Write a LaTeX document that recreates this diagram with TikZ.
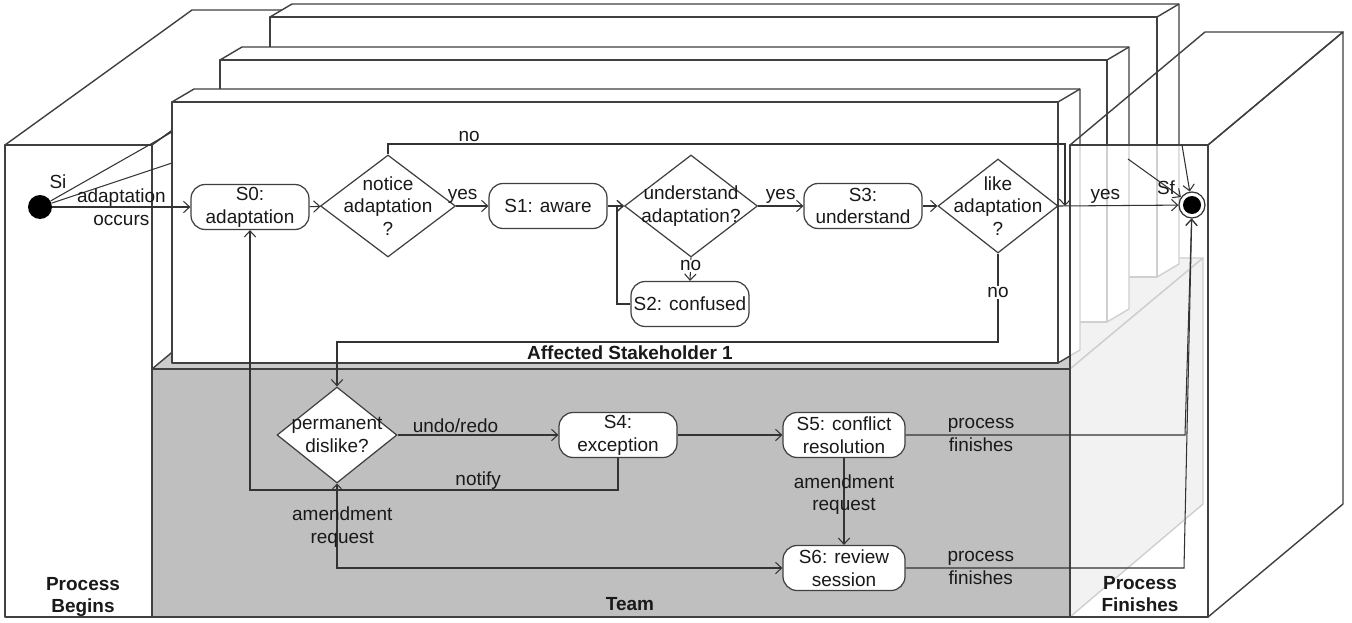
\documentclass[tikz,border=0pt]{standalone}
\usepackage{fontspec}
\setmainfont{Liberation Sans}
\usetikzlibrary{shapes.geometric,arrows.meta,positioning,calc}

\begin{document}
\begin{tikzpicture}[x=0.02cm, y=-0.02cm,
    every node/.style={font=\fontsize{10.8}{13}\selectfont, text=black!90},
    box/.style={draw=black!75, line width=0.8pt, fill=white, line join=round},
    state/.style={draw=black!75, line width=0.7pt, fill=white, rectangle, rounded corners=8pt,
      minimum width=2.36cm, minimum height=0.9cm, inner sep=0pt, align=center},
    decision/.style={draw=black!75, line width=0.7pt, fill=white, diamond, inner sep=0pt},
    flow/.style={draw=black!80, line width=0.6pt, -{Straight Barb[length=3.5pt,width=6.5pt]}},
    link/.style={draw=black!80, line width=0.6pt},
    title/.style={font=\fontsize{10.8}{13}\selectfont\bfseries, align=center}
  ]
    \useasboundingbox (0,0) rectangle (1352,622);

    % process begins
    \draw[box] (5,145) -- (152,145) -- (339,10) -- (192,10) -- cycle;
    \draw[box] (152,145) -- (339,10) -- (339,482) -- (152,617) -- cycle;
    \draw[box] (5,145) rectangle (152,617);

    % team, hidden faces
    \draw[box, fill=gray!40] (152,369) -- (1070,369) -- (1203,258) -- (285,258) -- cycle;
    \draw[box, fill=gray!40] (1070,369) -- (1203,258) -- (1203,504) -- (1070,617) -- cycle;

    % stakeholder boxes, back to front
    \foreach \xa/\ya/\xb/\yb in {270/17/1157/277, 220/60/1107/322, 172/102/1058/363}{
      \draw[box] (\xa,\ya) -- (\xa+22,\ya-13) -- (\xb+22,\ya-13) -- (\xb+22,\yb-13) -- (\xb,\yb) -- (\xb,\ya) -- cycle;
      \draw[box] (\xa,\ya) rectangle (\xb,\yb);
      \draw[box] (\xb,\ya) -- (\xb+22,\ya-13);
    }

    % team
    \draw[box, fill=gray!50] (152,369) rectangle (1070,617);

    \node[title] (stake) at (630,353) {Affected Stakeholder 1};
    \node[title] (team) at (630,604) {Team};
    \node[title] (begins) at (83,597) {Process\\Begins};

    % states
    \node[circle, fill=black, minimum size=0.48cm, inner sep=0pt] (si) at (40,207) {};
    \node (silbl) at (58,182) {Si};
    \node[state] (s0) at (250,207) {S0:\\adaptation};
    \node[decision, minimum width=2.7cm, minimum height=2.04cm] (notice) at (388,206) {};
    \node[align=center] (noticet) at (notice) {notice\\adaptation\\?};
    \node[state] (s1) at (548,206) {S1: aware};
    \node[decision, minimum width=2.66cm, minimum height=2.04cm] (under) at (691,206) {};
    \node[align=center] (undert) at (under) {understand\\adaptation?};
    \node[state] (s2) at (690,304) {S2: confused};
    \node[state] (s3) at (863,206) {S3:\\understand};
    \node[decision, minimum width=2.4cm, minimum height=1.88cm] (like) at (998,206) {};
    \node[align=center] (liket) at (like) {like\\adaptation\\?};

    \node[decision, minimum width=2.4cm, minimum height=1.92cm] (perm) at (337,435) {};
    \node[align=center] (permt) at (perm) {permanent\\dislike?};
    \node[state] (s4) at (618,435) {S4:\\exception};
    \node[state, minimum width=2.44cm] (s5) at (844,435) {S5: conflict\\resolution};
    \node[state, minimum width=2.44cm] (s6) at (844,568) {S6: review\\session};

    \coordinate (nj) at (1065,144);
    \coordinate (ua) at (617,206);
    \coordinate (nl) at (998,342);
    \coordinate (nt) at (618,490);
    \coordinate (na) at (337,568);
    \coordinate (fin1) at (1185,435);
    \coordinate (fin2) at (1184,568);
    \coordinate (sia) at (172,132);
    \coordinate (sib) at (172,163);

    % transitions
    \draw[link] (si) -- (sia);
    \draw[link] (si) -- (sib);
    \draw[flow] (si) -- node[midway, align=center] {adaptation\\occurs} (s0);
    \draw[flow] (s0) -- (notice);
    \draw[flow] (notice) -- node[pos=0.2, above, inner sep=1pt] {yes} (s1);
    \draw[flow] (notice.north) |- node[pos=0.56, above, inner sep=1pt] {no} (nj) -- (nj |- like.east);
    \draw[flow] (s1) -- (under);
    \draw[flow] (under.south) -- node[pos=0.35, fill=white, inner sep=0.5pt] {no} (s2.north);
    \draw[flow] (s2.west) -| (ua) -- (under.west);
    \draw[flow] (under) -- node[midway, above, inner sep=1pt] {yes} (s3);
    \draw[flow] (s3) -- (like);
    \draw[flow] (like.south) -- node[pos=0.44, fill=white, inner sep=1pt] {no} (nl) -| (perm.north);

    \draw[flow] (perm.east) -- node[pos=0.36, above, inner sep=1pt] {undo/redo} (s4.west);
    \draw[flow] (s4) -- (s5);
    \draw[flow] (s4.south) -- (nt) -| node[pos=0.19, above, inner sep=0pt] {notify} (s0.south);
    \draw[flow] (s5.south) -- node[pos=0.42, align=center] {amendment\\request} (s6.north);
    \draw[{Straight Barb[length=2.5pt,width=5pt]}-{Straight Barb[length=3.5pt,width=6.5pt]}, link]
      (perm.south) -- node[pos=0.52, xshift=3pt, align=center] {amendment\\request} (na) -- (s6.west);

    % process finishes
    \draw[box] (1208,145) -- (1343,32) -- (1343,504) -- (1208,617) -- cycle;
    \draw[box, fill=none] (1070,145) -- (1205,32) -- (1343,32) -- (1208,145);
    \draw[box, fill=white, fill opacity=0.75] (1070,145) rectangle (1208,617);
    \node[title] (finishes) at (1140,594) {Process\\Finishes};

    \node[circle, draw=black!80, line width=0.7pt, fill=white, minimum size=0.52cm, inner sep=0pt] (sf) at (1192,205) {};
    \fill (sf.center) circle (0.18cm);
    \node (sflbl) at (1166,188) {Sf};
    \coordinate (sfa) at (1128,159);
    \coordinate (sfb) at (1182,145);

    \draw[flow] (like.east) -- node[pos=0.39, above, inner sep=1pt] {yes} (sf);
    \draw[flow] (sfa) -- (sf);
    \draw[flow] (sfb) -- (sf);
    \draw[flow] (s5.east) -- node[pos=0.27, align=center] {process\\finishes} (fin1) -- (sf);
    \draw[flow] (s6.east) -- node[pos=0.27, align=center] {process\\finishes} (fin2) -- (sf);
\end{tikzpicture}
\end{document}
